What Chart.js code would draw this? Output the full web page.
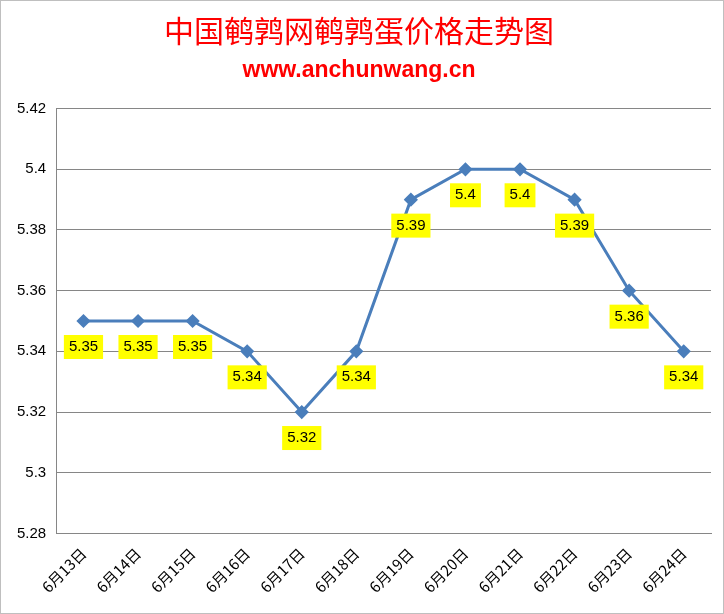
<!DOCTYPE html>
<html>
<head>
<meta charset="utf-8">
<script src="https://cdn.jsdelivr.net/npm/chart.js@4"></script>
<style>
body { margin: 0; background: #fff; }
#wrap { width: 722px; height: 612px; border: 1px solid #bfbfbf; }
</style>
</head>
<body>
<div id="wrap"><canvas id="priceChart" width="722" height="612"></canvas></div>
<script>
const labels = ['6月13日', '6月14日', '6月15日', '6月16日', '6月17日', '6月18日', '6月19日', '6月20日', '6月21日', '6月22日', '6月23日', '6月24日'];
const prices = [5.35, 5.35, 5.35, 5.34, 5.32, 5.34, 5.39, 5.4, 5.4, 5.39, 5.36, 5.34];

// yellow value boxes under each point
const valueBoxes = {
    id: 'valueBoxes',
    afterDatasetsDraw(chart) {
        const ctx = chart.ctx;
        const meta = chart.getDatasetMeta(0);
        ctx.save();
        ctx.font = '15px "Liberation Sans", Arial, sans-serif';
        ctx.textAlign = 'center';
        ctx.textBaseline = 'middle';
        meta.data.forEach((pt, i) => {
            const text = String(prices[i]);
            const w = ctx.measureText(text).width + 10;
            const h = 24;
            const x = pt.x, y = pt.y + 26;
            ctx.fillStyle = '#ffff00';
            ctx.fillRect(x - w / 2, y - h / 2, w, h);
            ctx.fillStyle = '#000';
            ctx.fillText(text, x, y);
        });
        ctx.restore();
    }
};

new Chart(document.getElementById('priceChart').getContext('2d'), {
    type: 'line',
    data: {
        labels: labels,
        datasets: [{
            data: prices,
            borderColor: '#4a7ebb',
            backgroundColor: '#4a7ebb',
            borderWidth: 3,
            pointStyle: 'rectRot',
            pointRadius: 5,
            fill: false,
            tension: 0
        }]
    },
    options: {
        responsive: false,
        animation: false,
        layout: { padding: { left: 6, right: 12, bottom: 14 } },
        plugins: {
            legend: { display: false },
            tooltip: { enabled: false },
            title: {
                display: true,
                text: '中国鹌鹑网鹌鹑蛋价格走势图',
                color: '#ff0000',
                font: { size: 30, family: '"Noto Sans CJK SC"', weight: 'normal' },
                padding: { top: 12, bottom: 8 }
            },
            subtitle: {
                display: true,
                text: 'www.anchunwang.cn',
                color: '#ff0000',
                font: { size: 23, family: '"Liberation Sans", Arial', weight: 'bold' },
                padding: { bottom: 24 }
            }
        },
        scales: {
            x: {
                offset: true,
                grid: { display: false },
                border: { color: '#868686' },
                ticks: {
                    color: '#000',
                    font: { size: 15, family: '"Noto Sans CJK SC"' },
                    minRotation: 45,
                    maxRotation: 45
                }
            },
            y: {
                min: 5.28,
                max: 5.42,
                grid: { color: '#868686', drawTicks: false },
                border: { color: '#868686' },
                ticks: {
                    stepSize: 0.02,
                    padding: 10,
                    color: '#000',
                    font: { size: 15, family: '"Liberation Sans", Arial' },
                    callback: v => String(parseFloat(v.toFixed(2)))
                }
            }
        }
    },
    plugins: [valueBoxes]
});
</script>
</body>
</html>
